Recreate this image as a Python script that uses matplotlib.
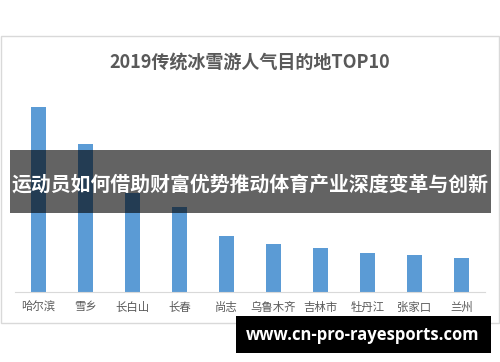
import matplotlib
matplotlib.use('Agg')
import matplotlib.pyplot as plt
from matplotlib.patches import Rectangle

plt.rcParams['font.family'] = ['Noto Sans CJK SC', 'DejaVu Sans']

# --- data (heights, arbitrary units) ---
ciudades = ['哈尔滨', '雪乡', '长白山', '长春', '尚志', '乌鲁木齐', '吉林市', '牡丹江', '张家口', '兰州']
valores = [185, 148, 99, 85, 56, 48, 44, 39, 37, 34]

titulo = '2019传统冰雪游人气目的地TOP10'
banda_texto = '运动员如何借助财富优势推动体育产业深度变革与创新'
url_texto = 'www.cn-pro-rayesports.com'

W, H = 500, 362
fig = plt.figure(figsize=(W / 100, H / 100), dpi=100)
fig.patch.set_facecolor('white')

# axes placed in pixel units: x 15..485, baseline at y=292, top at y=100
ax = fig.add_axes([15 / W, (H - 292) / H, 470 / W, 192 / H])
x = range(len(ciudades))
ax.bar(x, valores, width=0.32, color='#5b9bd5')
ax.set_xlim(-0.5, len(ciudades) - 0.5)
ax.set_ylim(0, 192)
ax.set_xticks(list(x))
ax.set_xticklabels(ciudades, fontsize=8.2, color='#595959')
ax.tick_params(axis='x', length=0, pad=7)
ax.set_yticks([])
for s in ['top', 'left', 'right']:
    ax.spines[s].set_visible(False)
ax.spines['bottom'].set_color('#d9d9d9')
ax.set_facecolor('none')

# chart frame
fig.patches.append(Rectangle((0.5 / W, (H - 323) / H), 498.5 / W, 287 / H,
                             transform=fig.transFigure, facecolor='none',
                             edgecolor='#d9d9d9', linewidth=1, zorder=0.5))

fig.text(250 / W, (H - 62) / H, titulo, ha='center', va='center',
         fontsize=13, fontweight='bold', color='#595959')

# translucent banner over the chart
fig.patches.append(Rectangle((10 / W, (H - 213) / H), 481 / W, 63 / H,
                             transform=fig.transFigure, facecolor='black',
                             alpha=0.61, edgecolor='none', zorder=5))
fig.text(250 / W, (H - 184) / H, banda_texto, ha='center', va='center',
         fontsize=14.3, fontweight='bold', color='white', zorder=6)

# url box bottom right
fig.patches.append(Rectangle((236 / W, (H - 353) / H), 255 / W, 37 / H,
                             transform=fig.transFigure, facecolor='black',
                             edgecolor='none', zorder=5))
fig.text(363 / W, (H - 335) / H, url_texto, ha='center', va='center',
         fontsize=12, fontweight='bold', color='white', zorder=6,
         family=['Open Sans', 'DejaVu Sans'])

plt.savefig('out.png', dpi=100)
